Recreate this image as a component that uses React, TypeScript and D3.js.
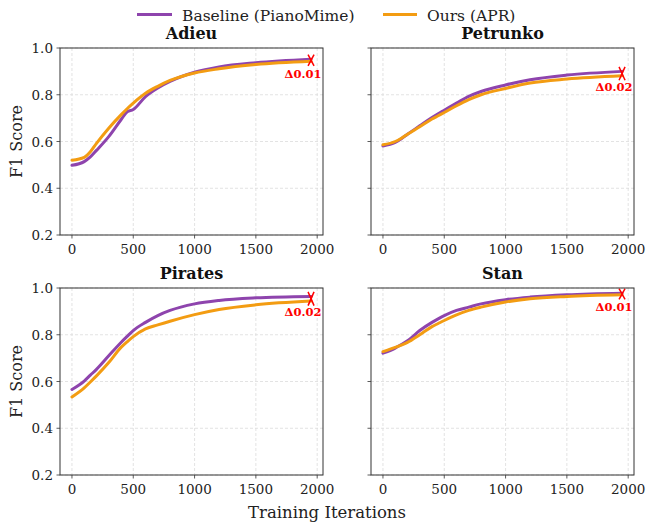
import React from "react";
import * as d3 from "d3";

const iterations = [0, 100, 150, 200, 300, 400, 450, 500, 600, 700, 800, 1000, 1200, 1500, 1950];

const adieuBaseline = [0.498, 0.514, 0.534, 0.562, 0.621, 0.693, 0.727, 0.737, 0.792, 0.829, 0.857, 0.896, 0.919, 0.937, 0.952];
const adieuOurs = [0.52, 0.532, 0.556, 0.592, 0.657, 0.714, 0.74, 0.764, 0.806, 0.836, 0.861, 0.893, 0.911, 0.929, 0.943];

const petrunkoBaseline = [0.581, 0.596, 0.612, 0.631, 0.667, 0.703, 0.719, 0.734, 0.764, 0.793, 0.814, 0.842, 0.864, 0.884, 0.9];
const petrunkoOurs = [0.586, 0.6, 0.614, 0.631, 0.663, 0.696, 0.71, 0.724, 0.753, 0.779, 0.8, 0.827, 0.85, 0.867, 0.881];

const piratesBaseline = [0.566, 0.602, 0.627, 0.652, 0.71, 0.767, 0.793, 0.818, 0.853, 0.882, 0.904, 0.932, 0.947, 0.958, 0.964];
const piratesOurs = [0.534, 0.573, 0.598, 0.624, 0.681, 0.746, 0.77, 0.792, 0.825, 0.842, 0.858, 0.886, 0.908, 0.928, 0.944];

const stanBaseline = [0.721, 0.743, 0.758, 0.774, 0.818, 0.853, 0.868, 0.882, 0.904, 0.918, 0.932, 0.95, 0.961, 0.971, 0.978];
const stanOurs = [0.728, 0.746, 0.756, 0.767, 0.8, 0.835, 0.848, 0.861, 0.885, 0.904, 0.918, 0.94, 0.954, 0.964, 0.971];

const panelTitles = ["Adieu", "Petrunko", "Pirates", "Stan"];
const deltaLabels = ["Δ0.01", "Δ0.02", "Δ0.02", "Δ0.01"];
const seriesNames = ["Baseline (PianoMime)", "Ours (APR)"];
const xTicks = [0, 500, 1000, 1500, 2000];
const yTicks = [0.2, 0.4, 0.6, 0.8, 1.0];

const baselineSeries = [adieuBaseline, petrunkoBaseline, piratesBaseline, stanBaseline];
const oursSeries = [adieuOurs, petrunkoOurs, piratesOurs, stanOurs];

const PURPLE = "#8E44AD";
const ORANGE = "#F39C12";
const FONT = "'DejaVu Serif', serif";

const W = 646;
const H = 523;
const panelW = 263;
const panelH = 187;
const colX = [60, 371];
const rowY = [48, 288];

function Panel({ idx }: { idx: number }) {
  const col = idx % 2;
  const row = Math.floor(idx / 2);
  const left = colX[col];
  const top = rowY[row];
  const x = d3.scaleLinear().domain([-97.5, 2047.5]).range([left, left + panelW]);
  const y = d3.scaleLinear().domain([0.2, 1.0]).range([top + panelH, top]);
  const line = d3
    .line<number>()
    .x((_, i) => x(iterations[i]))
    .y((d) => y(d))
    .curve(d3.curveMonotoneX);
  const base = baselineSeries[idx];
  const ours = oursSeries[idx];
  const lastX = x(iterations[iterations.length - 1]);
  const yb = y(base[base.length - 1]);
  const yo = y(ours[ours.length - 1]);
  const yTop = Math.min(yb, yo) - 4.5;
  const yBot = Math.max(yb, yo) + 4.5;
  const ym = (yb + yo) / 2;
  return (
    <g>
      {xTicks.map((t) => (
        <line key={"gx" + t} x1={x(t)} x2={x(t)} y1={top} y2={top + panelH} stroke="#dcdcdc" strokeWidth={0.8} strokeDasharray="3,2" />
      ))}
      {yTicks.map((t) => (
        <line key={"gy" + t} x1={left} x2={left + panelW} y1={y(t)} y2={y(t)} stroke="#dcdcdc" strokeWidth={0.8} strokeDasharray="3,2" />
      ))}
      <path d={line(base) || ""} fill="none" stroke={PURPLE} strokeWidth={3} strokeLinecap="round" strokeLinejoin="round" />
      <path d={line(ours) || ""} fill="none" stroke={ORANGE} strokeWidth={3} strokeLinecap="round" strokeLinejoin="round" />
      <line x1={lastX - 3} y1={yTop} x2={lastX + 3} y2={yBot} stroke="#ff0000" strokeWidth={1.5} />
      <line x1={lastX + 3} y1={yTop} x2={lastX - 3} y2={yBot} stroke="#ff0000" strokeWidth={1.5} />
      <text x={lastX - 8} y={ym + 17.5} textAnchor="middle" fontFamily={FONT} fontWeight="bold" fontSize={11.5} fill="#ff0000">
        {deltaLabels[idx]}
      </text>
      <rect x={left} y={top} width={panelW} height={panelH} fill="none" stroke="#333" strokeWidth={1} />
      {xTicks.map((t) => (
        <g key={"xt" + t}>
          <line x1={x(t)} x2={x(t)} y1={top + panelH} y2={top + panelH + 3.5} stroke="#333" strokeWidth={0.8} />
          <text x={x(t)} y={top + panelH + 18.5} textAnchor="middle" fontFamily={FONT} fontSize={13.5} fill="#222">
            {t}
          </text>
        </g>
      ))}
      {yTicks.map((t) => (
        <g key={"yt" + t}>
          <line x1={left - 3.5} x2={left} y1={y(t)} y2={y(t)} stroke="#333" strokeWidth={0.8} />
          {col === 0 && (
            <text x={left - 7} y={y(t) + 5} textAnchor="end" fontFamily={FONT} fontSize={13.5} fill="#222">
              {t.toFixed(1)}
            </text>
          )}
        </g>
      ))}
      <text x={left + panelW / 2} y={top - 9} textAnchor="middle" fontFamily={FONT} fontWeight="bold" fontSize={16} fill="#111">
        {panelTitles[idx]}
      </text>
      {col === 0 && (
        <text
          transform={`translate(22,${top + panelH / 2}) rotate(-90)`}
          textAnchor="middle"
          fontFamily={FONT}
          fontSize={16}
          fill="#222"
        >
          F1 Score
        </text>
      )}
    </g>
  );
}

export default function App() {
  return (
    <svg width={W} height={H} style={{ position: "absolute", left: 0, top: 0, background: "#fff" }}>
      <rect width={W} height={H} fill="#fff" />
      {[0, 1, 2, 3].map((i) => (
        <Panel key={i} idx={i} />
      ))}
      <line x1={137} x2={172} y1={14.5} y2={14.5} stroke={PURPLE} strokeWidth={3} />
      <text x={182} y={20.5} fontFamily={FONT} fontSize={15.5} fill="#222">
        {seriesNames[0]}
      </text>
      <line x1={383} x2={417} y1={14.5} y2={14.5} stroke={ORANGE} strokeWidth={3} />
      <text x={427} y={20.5} fontFamily={FONT} fontSize={15.5} fill="#222">
        {seriesNames[1]}
      </text>
      <text x={327} y={518} textAnchor="middle" fontFamily={FONT} fontSize={16.5} fill="#222">
        Training Iterations
      </text>
    </svg>
  );
}
